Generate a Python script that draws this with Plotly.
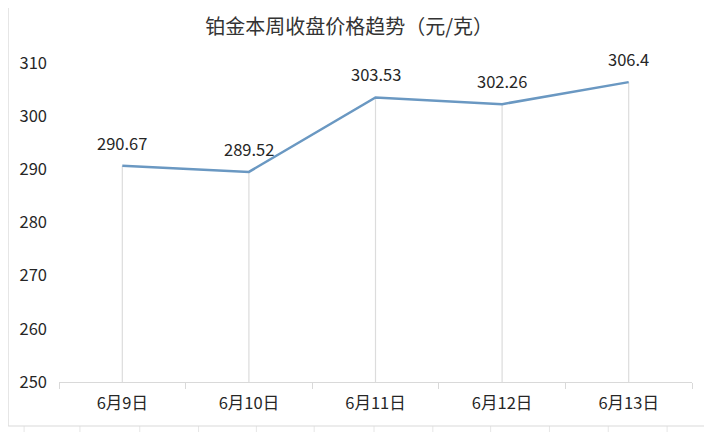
import plotly.graph_objects as go

categories = ["6月9日", "6月10日", "6月11日", "6月12日", "6月13日"]
prices = [290.67, 289.52, 303.53, 302.26, 306.4]
labels = ["290.67", "289.52", "303.53", "302.26", "306.4"]
y_ticks = [250, 260, 270, 280, 290, 300, 310]
title_text = "铂金本周收盘价格趋势（元/克）"

OFF = 8  # page body margin
W, H = 712 - OFF, 432 - OFF
L, R, T, B = 57 - OFF, 20, 63 - OFF, 50
pw, ph = W - L - R, H - T - B

def px(x):
    return (x - OFF - L) / pw

def py(y):
    return (H - B - (y - OFF)) / ph

font_fam = "Noto Sans CJK SC, Noto Sans, sans-serif"
txt_col = "#262626"

fig = go.Figure()

# drop lines from each point down to the axis
fig.add_trace(go.Scatter(
    x=categories, y=prices, mode="markers",
    marker=dict(size=1, opacity=0),
    error_y=dict(type="data", symmetric=False,
                 array=[0] * len(prices),
                 arrayminus=[p - y_ticks[0] for p in prices],
                 color="#dcdcdc", thickness=1.2, width=0),
    hoverinfo="skip", showlegend=False,
))

fig.add_trace(go.Scatter(
    x=categories, y=prices, mode="lines",
    line=dict(color="#6a98c2", width=2.5),
    showlegend=False,
))

annotations = [
    dict(x=c, y=v, text=t, showarrow=False, yshift=23,
         font=dict(size=16.5, color=txt_col, family=font_fam))
    for c, v, t in zip(categories, prices, labels)
]

shapes = []
# faint spreadsheet grid outside chart
for gx in [22, 78, 138, 197, 255, 313, 373, 432, 490, 549, 608, 667, 708]:
    shapes.append(dict(type="line", xref="paper", yref="paper",
                       x0=px(gx), x1=px(gx), y0=py(0), y1=py(432),
                       line=dict(color="#e6e6e6", width=1), layer="below"))
for gy in range(2, 432, 22):
    shapes.append(dict(type="line", xref="paper", yref="paper",
                       x0=px(0), x1=px(712), y0=py(gy), y1=py(gy),
                       line=dict(color="#e6e6e6", width=1), layer="below"))
# chart area
shapes.append(dict(type="rect", xref="paper", yref="paper",
                   x0=px(6), x1=px(705), y0=py(5), y1=py(426),
                   fillcolor="white", line=dict(color="#d9d9d9", width=1),
                   layer="below"))

fig.update_layout(
    width=W, height=H,
    margin=dict(l=L, r=R, t=T, b=B),
    paper_bgcolor="white", plot_bgcolor="rgba(0,0,0,0)",
    title=dict(text=title_text, xanchor="center", xref="paper",
               x=px(348), y=1 - (27 - OFF) / H, yanchor="middle", yref="container",
               font=dict(size=20, color="#333333", family=font_fam)),
    shapes=shapes,
    annotations=annotations,
    font=dict(family=font_fam, size=16.5, color=txt_col),
)
fig.update_xaxes(
    type="category", showgrid=False, showline=True,
    linecolor="#d9d9d9", linewidth=1.2,
    ticks="outside", tickson="boundaries", ticklen=6, tickcolor="#d9d9d9",
    tickfont=dict(size=16.5, color=txt_col), ticklabelstandoff=6,
    range=[-0.5, len(categories) - 0.5],
)
fig.update_yaxes(
    range=[250, 310], tickvals=y_ticks, showgrid=False, showline=False,
    zeroline=False, ticks="", ticklabelstandoff=11,
    tickfont=dict(size=16.5, color=txt_col),
)
fig.write_html("out.html")
